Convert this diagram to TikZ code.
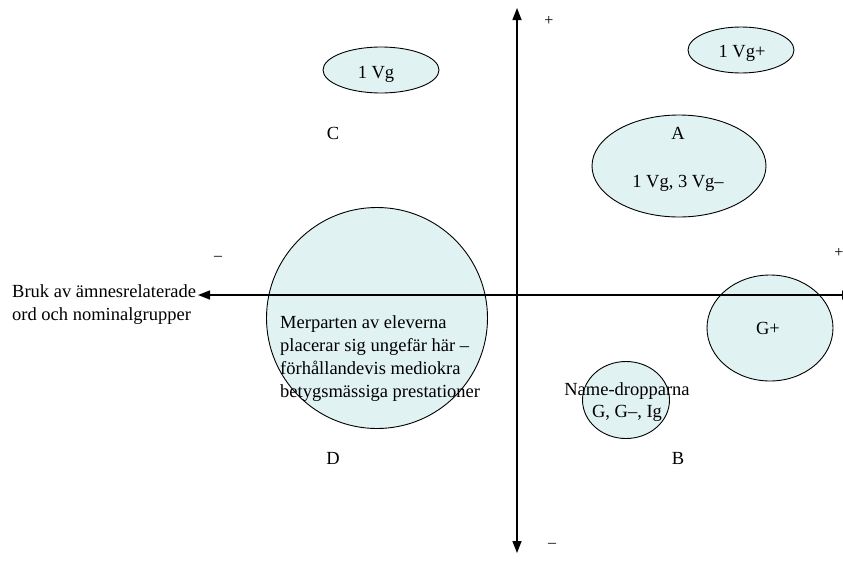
\documentclass[tikz,border=0pt]{standalone}
\usepackage{fontspec}
\setmainfont{Liberation Serif}
\usetikzlibrary{shapes.geometric,arrows.meta}

\definecolor{paleC}{HTML}{E1F2F3}
\definecolor{inkK}{HTML}{000000}

\begin{document}
\begin{tikzpicture}[x=1pt, y=-1pt,
    blob/.style={ellipse, draw=inkK, fill=paleC, line width=0.9pt, inner sep=0pt},
    lbl/.style={font=\fontsize{18.5}{23}\selectfont, text=inkK, inner sep=0pt},
    sgn/.style={font=\fontsize{16}{18}\selectfont, text=inkK, inner sep=0pt},
    axis/.style={draw=inkK, line width=1.4pt, {Triangle[length=12pt,width=9pt]}-{Triangle[length=12pt,width=9pt]}}]
    \useasboundingbox (0,0) rectangle (843,560);

    % groups
    \node[blob, minimum width=116pt, minimum height=46pt] (vgC) at (381,70) {};
    \node[blob, minimum width=106pt, minimum height=46pt] (vgPlus) at (741,50) {};
    \node[blob, minimum width=174pt, minimum height=102pt] (grpA) at (679,166) {};
    \node[blob, minimum width=126pt, minimum height=106pt] (gPlus) at (770,328) {};
    \node[blob, minimum width=87pt, minimum height=77pt] (drop) at (626,400) {};
    \node[blob, minimum width=221pt, minimum height=221pt] (most) at (377,318) {};

    % axes
    \coordinate (xL) at (198,295);
    \coordinate (xR) at (854,295);
    \coordinate (yT) at (517,8);
    \coordinate (yB) at (517,553);
    \draw[axis] (xL) -- (xR);
    \draw[axis] (yT) -- (yB);

    % signs
    \node[sgn] (yPos) at (549,21) {+};
    \node[sgn] (yNeg) at (552,545) {–};
    \node[sgn] (xNeg) at (218,258) {–};
    \node[sgn] (xPos) at (839,253) {+};

    % labels
    \node[lbl, align=left, anchor=west] (xName) at (12,305) {Bruk av ämnesrelaterade\\ord och nominalgrupper};
    \node[lbl] (vgCTxt) at (376,74) {1 Vg};
    \node[lbl] (vgPlusTxt) at (742,53) {1 Vg+};
    \node[lbl] (cTxt) at (333,133) {C};
    \node[lbl] (aTxt) at (678,133) {A};
    \node[lbl] (aVals) at (678,183) {1 Vg, 3 Vg–};
    \node[lbl] (gPlusTxt) at (768,328) {G+};
    \node[lbl, align=left, anchor=west] (mostTxt) at (280,359) {Merparten av eleverna\\placerar sig ungefär här –\\förhållandevis mediokra\\betygsmässiga prestationer};
    \node[lbl, align=center, font=\fontsize{18.5}{22}\selectfont] (dropTxt) at (627,402) {Name-dropparna\\G, G–, Ig};
    \node[lbl] (dTxt) at (333,458) {D};
    \node[lbl] (bTxt) at (678,458) {B};
\end{tikzpicture}
\end{document}
